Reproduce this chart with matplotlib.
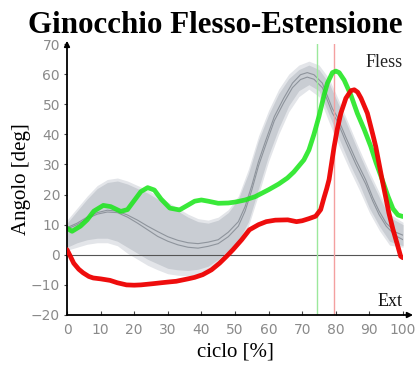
import matplotlib
matplotlib.use("Agg")
import matplotlib.pyplot as plt

# ---- data ----
green_x = [0, 1.5, 4, 6, 8, 10.8, 13, 16, 18, 20, 22, 24, 26, 28, 30.6, 33.5, 36, 38, 40, 42, 45, 48, 50, 53,
           56, 60, 63, 65.6, 67.5, 69, 70.5, 72, 73.5, 75, 76.5, 77.5, 79, 80, 81, 82.5, 84.5, 86.4, 88.5,
           90.4, 92, 93.8, 95.5, 97, 98.5, 100]
green_y = [8.8, 7.8, 9.5, 11.6, 14.5, 16.4, 16.0, 14.4, 15, 18, 21, 22.3, 21.5, 18.5, 15.5, 14.9, 16.5, 17.8,
           18.2, 17.8, 17.1, 17.2, 17.5, 18.2, 19.3, 21.6, 23.5, 25.5, 27.5, 29.5, 31.5, 34.8, 40, 46, 53, 57,
           60.5, 61, 60.5, 58, 53, 47, 41.5, 36, 30.5, 25, 19.5, 15.3, 13.2, 12.7]

red_x = [0, 1, 2, 3.5, 4.8, 6.5, 7.8, 10, 12.8, 15, 17.7, 20, 22, 25.6, 28, 30.6, 32.5, 36, 38, 40.4, 43,
         45.4, 47.5, 49.4, 52, 54.3, 57, 59.3, 62, 65.7, 68.3, 70, 72, 74, 75.5, 76.5, 77.3, 78, 79.5, 80.5,
         81.5, 83, 84.5, 85.5, 86.5, 87.5, 89.4, 91, 91.9, 93.8, 95.8, 97, 98.3, 99.3, 100]
red_y = [1.7, -0.5, -2.8, -4.8, -6, -7.2, -7.7, -8, -8.5, -9.3, -10, -10.1, -10, -9.6, -9.3, -9, -8.8, -8,
         -7.5, -6.6, -5, -2.8, -0.5, 1.7, 5, 8.3, 10, 11, 11.5, 11.6, 11, 11.3, 12, 12.8, 15, 19, 22, 25,
         35.9, 42, 47, 52, 54.5, 54.8, 54, 52, 47, 40, 35.9, 24.9, 13.9, 8.5, 3.5, -0.5, -1]

mean_x = [0, 3, 6, 9, 12, 15, 18, 21, 24, 27, 30, 33, 36, 39, 42, 45, 48, 51, 53, 55, 57, 59, 61.7, 64.5,
          67.1, 69.5, 71.5, 73.5, 76, 79, 80.4, 83, 86, 88.9, 91, 92.9, 95, 97.8, 100]
mean_a = [9, 10.5, 12.5, 14, 14.8, 14.5, 13.2, 11.5, 9.5, 7.7, 6, 4.8, 4, 3.7, 4.2, 5, 7.5, 11, 16, 23, 31,
          37.5, 45.9, 52, 57, 59.8, 60.5, 59.8, 57, 48.5, 45.9, 39, 31.5, 24.9, 19, 14.5, 10.5, 7.5, 6.5]
mean_b = [8.5, 10, 12, 13.5, 14.2, 14, 12.5, 10.5, 8.3, 6.1, 4.5, 3.3, 2.5, 2.2, 2.8, 3.7, 6, 9.5, 14.5,
          21.5, 29.5, 36, 44.5, 50.5, 55.5, 58.2, 59, 58.3, 55.5, 47, 44.5, 37.5, 30, 23.5, 17.8, 13.3, 9.5,
          6.3, 5]

band_x = [0, 3, 6, 9, 12, 15, 18, 21, 24, 27, 30, 33, 36, 39, 42, 45, 48, 51, 54, 57, 60, 63, 66, 69, 72,
          75, 78, 81, 84, 87, 90, 93, 96, 100]
inner_up = [10.5, 14.5, 18.5, 22, 24, 24.5, 23.5, 22, 20.5, 18.5, 16.5, 14.5, 12.5, 11, 10.5, 11.5, 14, 18.5,
            27, 38, 46.5, 53.5, 58.5, 61.5, 63, 61.5, 57, 49.5, 41.5, 33.5, 26, 19, 12.5, 10]
inner_lo = [2.5, 4, 5, 5.5, 5.5, 4.5, 2.5, 0.5, -1.5, -3, -4.5, -5, -5.2, -4.8, -3.8, -1.5, 1.5, 4.5, 11,
            22, 33, 42, 49.5, 54.5, 56.5, 54.5, 46.5, 38.5, 30.5, 23.5, 15.5, 9.5, 4.5, 3]
outer_up = [11.5, 15.5, 19.5, 23, 25, 25.5, 24.5, 23, 21.5, 19.5, 17.5, 15.5, 13.5, 12, 11.5, 12.5, 15, 19.5,
            28.5, 39.5, 48, 55, 60, 63, 64.3, 63, 58.5, 51, 43, 35, 27.5, 20.5, 13.5, 10.8]
outer_lo = [1.5, 2.5, 3.5, 4, 4, 3, 0.5, -1.5, -3.5, -5, -6.3, -6.8, -7, -6.5, -5.5, -3, 0.5, 3.5, 9.5,
            20, 31, 40, 47.5, 52.5, 55, 52.5, 44, 36, 28.5, 21.5, 14, 8, 3.2, 2.5]

x_ticks = [0, 10, 20, 30, 40, 50, 60, 70, 80, 90, 100]
y_ticks = [-20, -10, 0, 10, 20, 30, 40, 50, 60, 70]
green_event = 74.5
red_event = 79.5

# ---- figure ----
fig = plt.figure(figsize=(4.18, 3.74), dpi=100)
ax = fig.add_axes([67 / 418, 59 / 374, 336 / 418, 271 / 374])
ax.set_xlim(0, 100)
ax.set_ylim(-20, 70)

ax.fill_between(band_x, outer_lo, outer_up, color="#e3e5e9", lw=0, zorder=1)
ax.fill_between(band_x, inner_lo, inner_up, color="#c9cdd3", lw=0, zorder=1.5)
ax.plot(mean_x, mean_a, color="#8e949c", lw=0.8, zorder=2)
ax.plot(mean_x, mean_b, color="#8e949c", lw=0.8, zorder=2)

ax.plot([0, 99], [0, 0], color="#555555", lw=0.8, zorder=2.5)
ax.axvline(green_event, color="#9ce89c", lw=1.0, zorder=2.6)
ax.axvline(red_event, color="#f4a0a0", lw=1.0, zorder=2.6)

ax.plot(green_x, green_y, color="#1ee61e", lw=3.4, alpha=0.88, zorder=3,
        solid_capstyle="round", solid_joinstyle="round")
ax.plot(red_x, red_y, color="#ee0000", lw=3.4, alpha=0.95, zorder=4,
        solid_capstyle="round", solid_joinstyle="round")

for s in ax.spines.values():
    s.set_visible(False)
ax.annotate("", xy=(1.03, 0), xytext=(0, 0), xycoords="axes fraction",
            arrowprops=dict(arrowstyle="-|>", color="black", lw=1.3, mutation_scale=8,
                            shrinkA=0, shrinkB=0), annotation_clip=False)
ax.annotate("", xy=(0, 1.012), xytext=(0, 0), xycoords="axes fraction",
            arrowprops=dict(arrowstyle="-|>", color="black", lw=1.3, mutation_scale=8,
                            shrinkA=0, shrinkB=0), annotation_clip=False)

ax.set_xticks(x_ticks)
ax.set_yticks(y_ticks)
ax.tick_params(axis="x", direction="in", length=3, width=0.8, color="#444444",
               labelsize=10, labelcolor="#8a8a8a", pad=6)
ax.tick_params(axis="y", direction="out", length=2, width=0.8, color="#444444",
               labelsize=10, labelcolor="#8a8a8a", pad=3)

serif = "Liberation Serif"
ax.set_xlabel("ciclo [%]", fontfamily=serif, fontsize=15, labelpad=4)
ax.set_ylabel("Angolo [deg]", fontfamily=serif, fontsize=15, labelpad=0)
fig.text(0.515, 0.912, "Ginocchio Flesso-Estensione", fontfamily=serif, fontweight="bold",
         fontsize=22.3, ha="center", va="baseline")
ax.text(100, 62.5, "Fless", fontfamily=serif, fontsize=13, ha="right", va="baseline", color="#222222")
ax.text(100, -17, "Ext", fontfamily=serif, fontsize=13, ha="right", va="baseline", color="#111111")

fig.savefig("out.png", dpi=100)
